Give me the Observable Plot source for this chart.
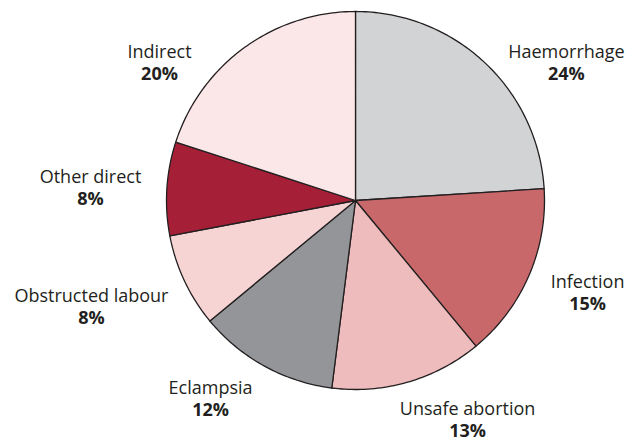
<!DOCTYPE html>
<html>
<head>
<meta charset="utf-8">
<script src="https://cdn.jsdelivr.net/npm/d3@7"></script>
<script src="https://cdn.jsdelivr.net/npm/@observablehq/plot@0.6"></script>
<style>
  html, body { margin: 0; padding: 0; background: #fff; }
  #chart svg { display: block; }
</style>
</head>
<body>
<div id="chart"></div>
<script>
// Data
const causes = ["Haemorrhage", "Infection", "Unsafe abortion", "Eclampsia", "Obstructed labour", "Other direct", "Indirect"];
const shares = [24, 15, 13, 12, 8, 8, 20];
const colors = ["#d1d3d4", "#c8686a", "#eebcbc", "#939598", "#f6d4d4", "#a51f37", "#fbe7e8"];
// label anchor positions in units of pie radius (x right, y up)
const labelX = [1.116, 1.228, 0.593, -0.767, -1.397, -1.402, -1.037];
const labelY = [0.725, -0.492, -1.16, -1.053, -0.566, 0.063, 0.725];

const W = 626, H = 441, R = 189, CX = 355, CY = 200;

const total = d3.sum(shares);
const slicePoints = [];
let start = 0;
causes.forEach((c, i) => {
  const end = start + shares[i] / total * 2 * Math.PI;
  slicePoints.push({name: c, color: colors[i], x: 0, y: 0});
  const n = Math.max(2, Math.ceil((end - start) / (Math.PI / 180)));
  for (let k = 0; k <= n; k++) {
    const a = start + (end - start) * k / n;
    slicePoints.push({name: c, color: colors[i], x: Math.sin(a), y: Math.cos(a)});
  }
  start = end;
});

const labels = causes.map((c, i) => ({name: c, pct: shares[i] + "%", x: labelX[i], y: labelY[i]}));

const chart = Plot.plot({
  width: W,
  height: H,
  margin: 0,
  style: {fontFamily: "'Open Sans', sans-serif", color: "#231f20", background: "#fff"},
  x: {domain: [-CX / R, (W - CX) / R], range: [0, W], axis: null},
  y: {domain: [-(H - CY) / R, CY / R], range: [H, 0], axis: null},
  color: {type: "identity"},
  marks: [
    Plot.line(slicePoints, {x: "x", y: "y", z: "name", fill: "color", stroke: "#231f20", strokeWidth: 1.3, curve: "linear-closed", strokeLinejoin: "round"}),
    Plot.text(labels, {x: "x", y: "y", text: "name", dy: -11, fontSize: 18, fill: "#231f20"}),
    Plot.text(labels, {x: "x", y: "y", text: "pct", dy: 11, fontSize: 18, fontWeight: "bold", fill: "#231f20"})
  ]
});
document.getElementById("chart").appendChild(chart);
</script>
</body>
</html>
